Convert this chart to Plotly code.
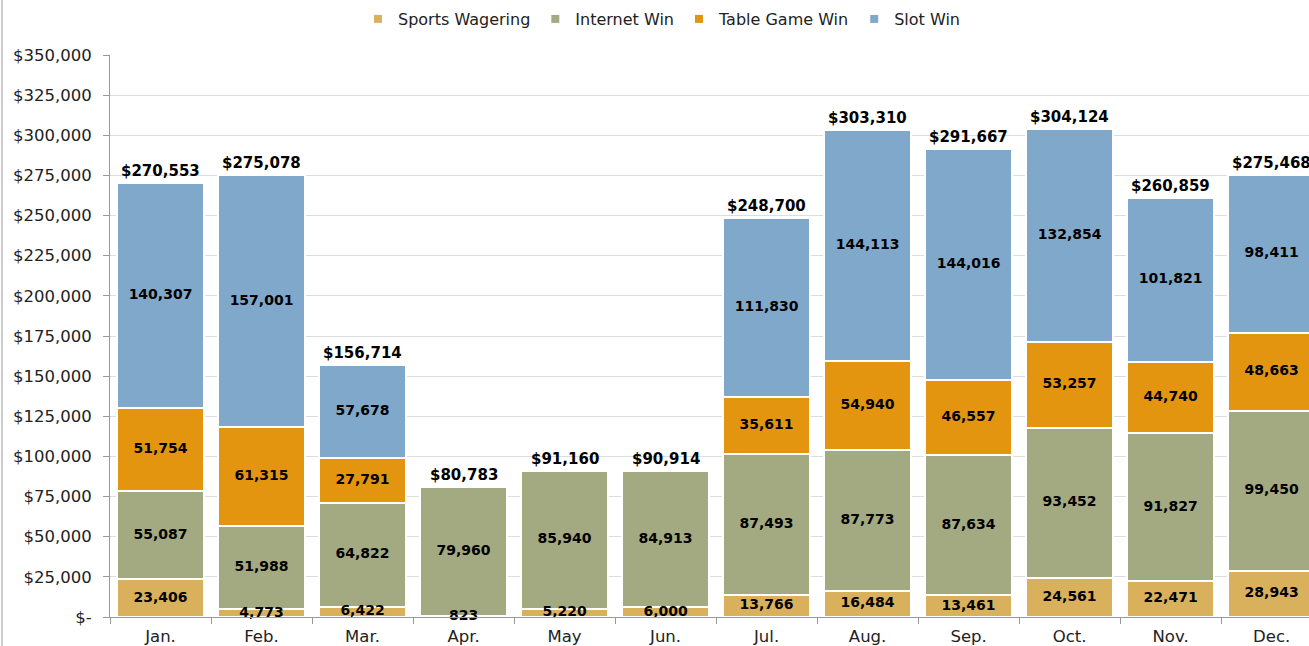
import plotly.graph_objects as go

months = ["Jan.", "Feb.", "Mar.", "Apr.", "May", "Jun.", "Jul.", "Aug.", "Sep.", "Oct.", "Nov.", "Dec."]
sports = [23406, 4773, 6422, 823, 5220, 6000, 13766, 16484, 13461, 24561, 22471, 28943]
internet = [55087, 51988, 64822, 79960, 85940, 84913, 87493, 87773, 87634, 93452, 91827, 99450]
table = [51754, 61315, 27791, None, None, None, 35611, 54940, 46557, 53257, 44740, 48663]
slot = [140307, 157001, 57678, None, None, None, 111830, 144113, 144016, 132854, 101821, 98411]
totals = [270553, 275078, 156714, 80783, 91160, 90914, 248700, 303310, 291667, 304124, 260859, 275468]

y_ticks = list(range(0, 350001, 25000))
y_ticktext = ["$-"] + [f"${v:,}" for v in y_ticks[1:]]

series = [
    ("Sports Wagering", sports, "#D9B15D"),
    ("Internet Win", internet, "#A3AA81"),
    ("Table Game Win", table, "#E3950F"),
    ("Slot Win", slot, "#80A8CA"),
]

FONT = "DejaVu Sans"
fig = go.Figure()

base = [0] * len(months)
label_x, label_y, label_t = [], [], []
for name, vals, color in series:
    fig.add_trace(go.Bar(
        x=months, y=vals, name=name, showlegend=False,
        marker=dict(color=color, line=dict(color="white", width=2)),
        hoverinfo="skip",
    ))
    # small square legend swatch like the original
    fig.add_trace(go.Scatter(
        x=[None], y=[None], mode="markers", name=name,
        marker=dict(symbol="square", size=8, color=color),
    ))
    for i, v in enumerate(vals):
        if v:
            label_x.append(months[i])
            label_y.append(base[i] + v / 2)
            label_t.append(f"{v:,}")
            base[i] += v

# segment labels
fig.add_trace(go.Scatter(
    x=label_x, y=label_y, text=label_t, mode="text",
    textposition="middle center", showlegend=False, hoverinfo="skip",
    textfont=dict(family=FONT, size=14, color="#000000", weight="bold"),
    cliponaxis=False,
))

# totals above each stack
for m, t in zip(months, totals):
    fig.add_annotation(
        x=m, y=t, text=f"${t:,}", showarrow=False,
        yanchor="bottom", yshift=1,
        font=dict(family=FONT, size=15, color="#000000", weight="bold"),
    )

# thin border at the far left of the page
fig.add_shape(type="line", xref="paper", yref="paper",
              x0=-108 / 1199, x1=-108 / 1199, y0=-0.1, y1=1.2,
              line=dict(color="#999999", width=1))

fig.update_layout(
    width=1309, height=646,
    barmode="stack", bargap=0.14,
    plot_bgcolor="white", paper_bgcolor="white",
    font=dict(family=FONT, size=16, color="#222222"),
    margin=dict(l=110, r=0, t=55, b=29),
    legend=dict(orientation="h", xref="container", x=662 / 1309, xanchor="center",
                yref="container", y=1 - 19 / 646, yanchor="middle",
                traceorder="normal", itemwidth=30,
                font=dict(family=FONT, size=16, color="#222222")),
    xaxis=dict(
        type="category", range=[-0.5, 11.37],
        showline=True, linecolor="#999999", linewidth=1,
        ticks="outside", tickson="boundaries", ticklen=6, tickcolor="#999999",
        showgrid=False, ticklabelstandoff=4,
        tickfont=dict(family=FONT, size=16.5, color="#222222"),
    ),
    yaxis=dict(
        range=[0, 350000], tickvals=y_ticks, ticktext=y_ticktext,
        showline=True, linecolor="#999999", linewidth=1,
        ticks="outside", ticklen=6, tickcolor="#999999",
        gridcolor="#DDDDDD", zeroline=False, ticklabelstandoff=8,
        tickfont=dict(family=FONT, size=16.5, color="#222222"),
    ),
)

fig.write_html("out.html", config={"displayModeBar": False},
               post_script="document.body.style.margin='0';")
